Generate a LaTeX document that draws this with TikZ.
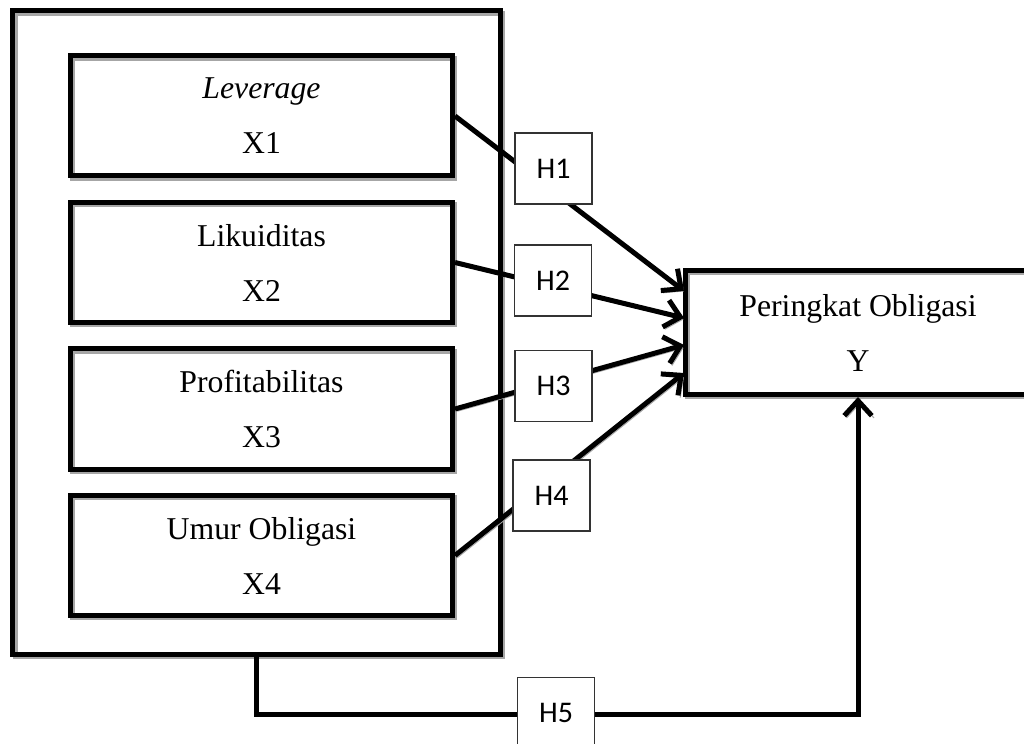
\documentclass[tikz,border=0pt]{standalone}
\usepackage{fontspec}
\setmainfont{Liberation Serif}
\newfontfamily\hfont{Carlito}
\usetikzlibrary{arrows.meta,positioning}
\tikzset{
        shad/.style={preaction={draw=black!35,transform canvas={shift={(0.9pt,-0.9pt)}}}},
        thick line/.style={line width=2pt,shad},
        varbox/.style={draw,thick line,minimum width=152.8pt,minimum height=48pt,align=center,
                font=\fontsize{12.7}{22}\selectfont},
        hbox/.style={draw=black!80,line width=0.5pt,fill=white,minimum width=30.8pt,minimum height=28.4pt,
                font=\hfont\fontsize{12}{14}\selectfont},
        arr/.style={thick line,-{Straight Barb[length=6pt,width=11pt]}}
}
\begin{document}
\begin{tikzpicture}[x=0.4pt,y=-0.4pt]
        \useasboundingbox (0,0) rectangle (1024,744);
        \clip (0,0) rectangle (1024,744);
        \node[draw,thick line,minimum width=194.8pt,minimum height=257.2pt] (grp) at (256.5,332.5) {};
        \node[varbox] (x1) at (261.5,116) {\textit{Leverage}\\X1};
        \node[varbox] (x2) at (261.5,262.5) {Likuiditas\\X2};
        \node[varbox] (x3) at (261.5,409) {Profitabilitas\\X3};
        \node[varbox] (x4) at (261.5,555.5) {Umur Obligasi\\X4};
        \node[varbox,minimum width=138.4pt,minimum height=49.6pt] (yb) at (858,332.5) {Peringkat Obligasi\\Y};
        \coordinate (in1) at (684,291);
        \coordinate (in2) at (684,318);
        \coordinate (in3) at (684,345);
        \coordinate (in4) at (684,373);
        \draw[arr] (x1.east) -- (in1);
        \draw[arr] (x2.east) -- (in2);
        \draw[arr] (x3.east) -- (in3);
        \draw[arr] (x4.east) -- (in4);
        \node[hbox] (h1) at (553.5,168.5) {H1};
        \node[hbox] (h2) at (553,280.5) {H2};
        \node[hbox] (h3) at (553.5,386) {H3};
        \node[hbox] (h4) at (551.5,495.5) {H4};
        \draw[arr] (grp.south) -- (grp.south |- 0,714) -- (yb.south |- 0,714) -- (yb.south);
        \node[hbox] (h5) at (556,713) {H5};
\end{tikzpicture}
\end{document}
